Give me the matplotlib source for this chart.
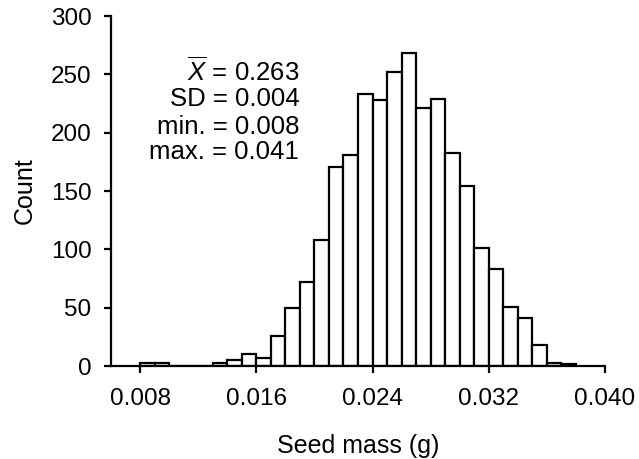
import numpy as np
import matplotlib
matplotlib.use("Agg")
import matplotlib.pyplot as plt

# bin left edges (g) and counts
bin_left = [0.008, 0.009, 0.010, 0.011, 0.012, 0.013, 0.014, 0.015, 0.016, 0.017,
            0.018, 0.019, 0.020, 0.021, 0.022, 0.023, 0.024, 0.025, 0.026, 0.027,
            0.028, 0.029, 0.030, 0.031, 0.032, 0.033, 0.034, 0.035, 0.036, 0.037]
counts = [3, 3, 0, 0, 0, 3, 5, 10, 7, 26,
          50, 72, 108, 171, 181, 233, 228, 252, 268, 221,
          229, 183, 154, 101, 83, 51, 41, 18, 3, 2]
bin_width = 0.001

x_ticks = [0.008, 0.016, 0.024, 0.032, 0.040]
x_ticklabels = ["0.008", "0.016", "0.024", "0.032", "0.040"]
y_ticks = [0, 50, 100, 150, 200, 250, 300]

stats_lines = [r"$\overline{X}$ = 0.263", "SD = 0.004", "min. = 0.008", "max. = 0.041"]

plt.rcParams["font.family"] = ["Liberation Sans", "DejaVu Sans"]
plt.rcParams["mathtext.fontset"] = "custom"
plt.rcParams["mathtext.rm"] = "Liberation Sans"
plt.rcParams["mathtext.it"] = "Liberation Sans:italic"

fig = plt.figure(figsize=(6.39, 4.59), dpi=100)
ax = fig.add_axes([0.1737, 0.2026, 0.7731, 0.7625])

ax.bar(bin_left, counts, width=bin_width, align="edge",
       facecolor="white", edgecolor="black", linewidth=1.6)

ax.set_xlim(0.006, 0.040)
ax.set_ylim(0, 300)
ax.set_xticks(x_ticks)
ax.set_xticklabels(x_ticklabels)
ax.set_yticks(y_ticks)

for s in ["top", "right"]:
    ax.spines[s].set_visible(False)
for s in ["left", "bottom"]:
    ax.spines[s].set_linewidth(1.6)
ax.tick_params(direction="out", length=5, width=1.6, labelsize=17.5, pad=9)
ax.tick_params(axis="x", pad=11)

ax.set_xlabel("Seed mass (g)", fontsize=18, labelpad=17)
ax.set_ylabel("Count", fontsize=18, labelpad=10)

y_pos = [0.841, 0.762, 0.684, 0.612]
for txt, yy in zip(stats_lines, y_pos):
    ax.text(0.381, yy, txt, transform=ax.transAxes, ha="right", va="center", fontsize=18.5)

fig.savefig("out.png", dpi=100)
